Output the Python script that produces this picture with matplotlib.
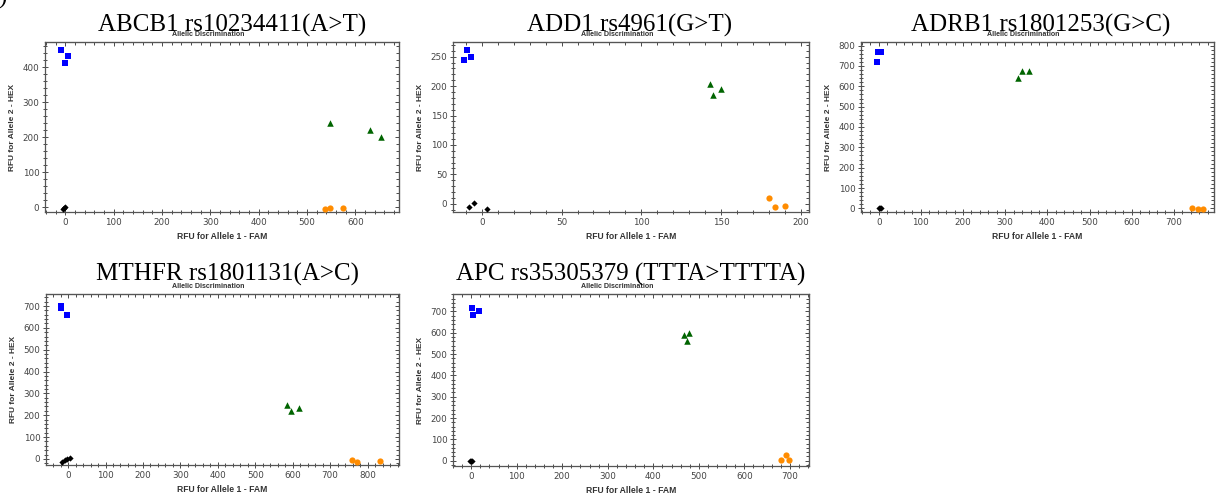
import matplotlib
matplotlib.use('Agg')
import matplotlib.pyplot as plt
from matplotlib.ticker import MultipleLocator, AutoMinorLocator

# ---------------- data ----------------
snp_titles = ["ABCB1 rs10234411(A>T)", "ADD1 rs4961(G>T)", "ADRB1 rs1801253(G>C)",
              "MTHFR rs1801131(A>C)", "APC rs35305379 (TTTA>TTTTA)"]

# Allele 2 homozygotes (blue squares): FAM (x) / HEX (y)
allele2_fam = [[-8, 5, 0], [-11, -9, -7], [-5, -2, 5, 3], [-20, -18, -2], [2, 4, 18]]
allele2_hex = [[450, 433, 411], [245, 261, 249], [720, 770, 768, 770], [690, 700, 660], [718, 685, 703]]
# Heterozygotes (green triangles)
hetero_fam = [[548, 631, 652], [143, 145, 150], [330, 340, 356], [585, 596, 617], [468, 478, 475]]
hetero_hex = [[242, 220, 201], [204, 185, 195], [643, 673, 673], [248, 220, 235], [588, 600, 560]]
# Allele 1 homozygotes (orange circles)
allele1_fam = [[536, 548, 574], [180, 184, 190], [742, 757, 768], [758, 773, 832], [680, 692, 698]]
allele1_hex = [[-5, -2, -1], [10, -6, -3], [2, -5, -5], [-5, -12, -8], [2, 28, 2]]
# No template controls (black diamonds)
ntc_fam = [[-5, -2, 0], [-8, -5, 3], [0, 3, 5], [-15, -8, -2, 4], [-3, 0, 2]]
ntc_hex = [[-5, -2, 0], [-6, 1, -9], [0, 3, 2], [-12, -7, -2, 3], [0, 0, 0]]

x_label = "RFU for Allele 1 - FAM"
y_label = "RFU for Allele 2 - HEX"
sub_title = "Allelic Discrimination"

# ---------------- layout ----------------
W, H = 1219, 494
fig = plt.figure(figsize=(W / 100, H / 100), dpi=100)

# axes boxes in pixels: left, right, top, bottom
boxes = [(45, 399, 42, 212), (453, 809, 42, 212), (861, 1214, 42, 212),
         (46, 399, 294, 465), (453, 809, 294, 466)]
xlims = [(-42, 690), (-18, 205), (-42, 795), (-59, 884), (-40, 742)]
ylims = [(-13, 472), (-14, 275), (-18, 818), (-28, 755), (-25, 782)]
majors = [100, 50, 100, 100, 100]
title_base = [32, 32, 32, 281, 281]
title_cx = [232, 630, 1041, 228, 631]

gray = '#4a4a4a'

for i in range(5):
    l, r, t, b = boxes[i]
    ax = fig.add_axes([l / W, 1 - b / H, (r - l) / W, (b - t) / H])
    ax.scatter(allele2_fam[i], allele2_hex[i], marker='s', s=20, color='#0000ff', zorder=3, linewidths=0)
    ax.scatter(hetero_fam[i], hetero_hex[i], marker='^', s=22, color='#006400', zorder=3, linewidths=0)
    ax.scatter(allele1_fam[i], allele1_hex[i], marker='o', s=20, color='#ff8c00', zorder=3, linewidths=0)
    ax.scatter(ntc_fam[i], ntc_hex[i], marker='D', s=10, color='black', zorder=3, linewidths=0)
    ax.set_xlim(*xlims[i])
    ax.set_ylim(*ylims[i])
    ax.xaxis.set_major_locator(MultipleLocator(majors[i]))
    ax.yaxis.set_major_locator(MultipleLocator(majors[i]))
    ax.xaxis.set_minor_locator(AutoMinorLocator(5))
    ax.yaxis.set_minor_locator(AutoMinorLocator(5))
    ax.tick_params(which='both', direction='inout', colors=gray, labelsize=6.3,
                   labelcolor='#444444', width=0.7)
    ax.tick_params(which='major', length=5, pad=2)
    ax.tick_params(which='minor', length=3)
    ax.tick_params(axis='y', pad=1.5)
    for s in ax.spines.values():
        s.set_color('#555555')
        s.set_linewidth(0.9)
    # inward ticks on top and right
    sx = ax.secondary_xaxis('top')
    sx.xaxis.set_major_locator(MultipleLocator(majors[i]))
    sx.xaxis.set_minor_locator(AutoMinorLocator(5))
    sx.tick_params(which='both', direction='in', labeltop=False, colors=gray, width=0.7)
    sx.tick_params(which='major', length=3)
    sx.tick_params(which='minor', length=2)
    sx.spines['top'].set_color('#555555')
    sy = ax.secondary_yaxis('right')
    sy.yaxis.set_major_locator(MultipleLocator(majors[i]))
    sy.yaxis.set_minor_locator(AutoMinorLocator(5))
    sy.tick_params(which='both', direction='in', labelright=False, colors=gray, width=0.7)
    sy.tick_params(which='major', length=3)
    sy.tick_params(which='minor', length=2)
    sy.spines['right'].set_color('#555555')

    cx = (l + r) / 2
    fig.text(cx / W, 1 - (b + 24) / H, x_label, ha='center', va='center',
             fontsize=6.2, fontweight='bold', family='Liberation Sans', color='#333333')
    fig.text((l - 32) / W, 1 - ((t + b) / 2) / H, y_label, ha='center', va='center',
             rotation=90, fontsize=6.0, fontweight='bold', family='Liberation Sans', color='#333333')
    fig.text((cx - 14) / W, 1 - (t - 8) / H, sub_title, ha='center', va='center',
             fontsize=5.1, fontweight='bold', family='Liberation Sans', color='#333333')
    fig.text(title_cx[i] / W, 1 - title_base[i] / H, snp_titles[i], ha='center', va='baseline',
             fontsize=18, family='Liberation Serif', color='black')

fig.text(-2 / W, 1 - 4 / H, ')', ha='left', va='baseline', fontsize=18,
         family='Liberation Serif', color='black')

fig.savefig('out.png', dpi=100)
